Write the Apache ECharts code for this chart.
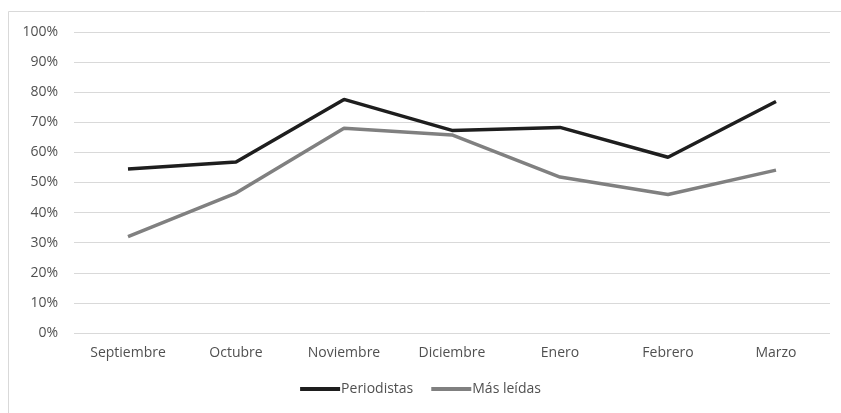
<!DOCTYPE html>
<html>
<head>
<meta charset="utf-8">
<script src="https://cdn.jsdelivr.net/npm/echarts@6/dist/echarts.min.js"></script>
<style>
  html, body { margin: 0; padding: 0; background: #fff; }
  #chart { width: 841px; height: 413px; }
</style>
</head>
<body>
<div id="chart"></div>
<script>
  const months = ['Septiembre', 'Octubre', 'Noviembre', 'Diciembre', 'Enero', 'Febrero', 'Marzo'];
  const periodistas = [54.5, 56.8, 77.6, 67.3, 68.3, 58.4, 76.9];
  const masLeidas = [32.0, 46.5, 68.0, 65.8, 51.8, 46.0, 54.1];

  const font = 'Open Sans';
  const chart = echarts.init(document.getElementById('chart'));

  const option = {
    backgroundColor: '#fff',
    animation: false,
    textStyle: {fontFamily: font},
    graphic: [{
      type: 'rect',
      shape: {x: 8.5, y: 11.5, width: 900, height: 500},
      style: {fill: 'none', stroke: '#d9d9d9', lineWidth: 1}
    }],
    grid: {left: 74, right: 11, top: 32, bottom: 80},
    legend: {
      bottom: 12,
      left: 'center',
      itemWidth: 40,
      itemHeight: 4,
      itemGap: 18,
      textStyle: {fontFamily: font, fontSize: 14, color: '#505050', padding: [0, 0, 0, -4]},
      data: [
        {name: 'Periodistas', icon: 'rect'},
        {name: 'Más leídas', icon: 'rect'}
      ]
    },
    xAxis: {
      type: 'category',
      data: months,
      boundaryGap: true,
      axisLine: {show: false},
      axisTick: {show: false},
      axisLabel: {fontFamily: font, fontSize: 14, color: '#505050', margin: 13}
    },
    yAxis: {
      type: 'value',
      min: 0,
      max: 100,
      interval: 10,
      axisLine: {show: false},
      axisTick: {show: false},
      axisLabel: {fontFamily: font, fontSize: 14, color: '#505050', margin: 16, formatter: '{value}%'},
      splitLine: {lineStyle: {color: '#d9d9d9', width: 1}}
    },
    series: [{
      name: 'Periodistas',
      type: 'line',
      data: periodistas,
      symbol: 'none',
      color: '#1e1e1e',
      lineStyle: {width: 3.5, color: '#1e1e1e'}
    }, {
      name: 'Más leídas',
      type: 'line',
      data: masLeidas,
      symbol: 'none',
      color: '#808080',
      lineStyle: {width: 3.5, color: '#808080'}
    }]
  };

  chart.setOption(option);
</script>
</body>
</html>
